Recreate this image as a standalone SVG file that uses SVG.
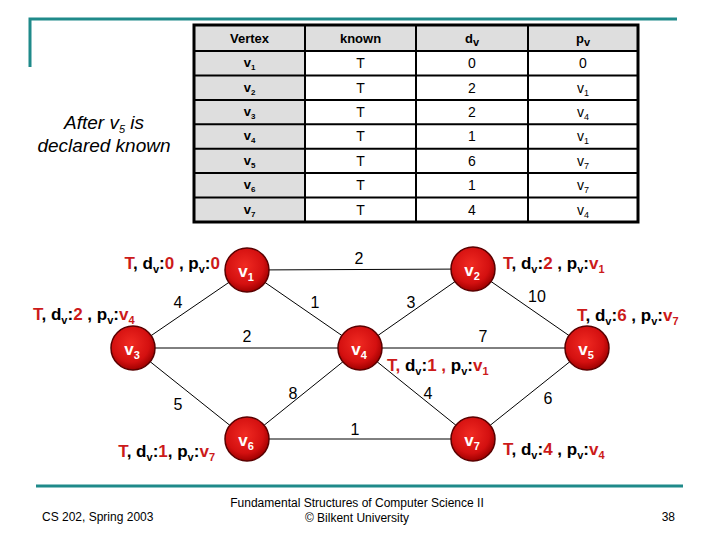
<svg xmlns="http://www.w3.org/2000/svg" width="720" height="540" viewBox="0 0 720 540">
<defs>
<radialGradient id="rg" cx="45%" cy="40%" r="60%">
<stop offset="0" stop-color="#f02a22"/>
<stop offset="0.7" stop-color="#d41010"/>
<stop offset="1" stop-color="#a00000"/>
</radialGradient>
<style>
text{font-family:"Liberation Sans",Arial,sans-serif;}
.node circle{fill:url(#rg);stroke:#5a0000;stroke-width:1.5;}
.node text{fill:#fff;font-weight:bold;font-size:17px;text-anchor:middle;}
.sub{font-size:11px;}
.edges line{stroke:#000;stroke-width:1;}
.el{font-size:16px;text-anchor:middle;fill:#000;}
.st{font-size:17px;font-weight:bold;fill:#000;}
.r{fill:#cc1a1a;}
.th{font-size:13px;font-weight:bold;text-anchor:middle;}
.tc{font-size:14px;text-anchor:middle;}
.tv{font-size:13px;font-weight:bold;text-anchor:middle;}
.ft{font-size:12px;fill:#000;}
</style>
</defs>
<rect width="720" height="540" fill="#fff"/>
<g id="frame" stroke="#1f8a8a" stroke-width="3" fill="none">
<polyline points="30,67 30,19 677,19"/>
<line x1="36" y1="486" x2="683" y2="486"/>
</g>
<g id="title">
<text x="104" y="129" font-size="19" font-style="italic" text-anchor="middle">After v<tspan class="sub" font-size="12" dy="4">5</tspan><tspan dy="-4"> is</tspan></text>
<text x="104" y="152" font-size="19" font-style="italic" text-anchor="middle">declared known</text>
</g>
<g id="table">
<rect x="194" y="25" width="444" height="26" fill="#dedede"/>
<rect x="194" y="51" width="111" height="171" fill="#dedede"/>
<g stroke="#000" stroke-width="2">
<line x1="305" y1="25" x2="305" y2="222"/>
<line x1="416" y1="25" x2="416" y2="222"/>
<line x1="528" y1="25" x2="528" y2="222"/>
<line x1="194" y1="51" x2="638" y2="51"/>
<line x1="194" y1="75.4" x2="638" y2="75.4"/>
<line x1="194" y1="99.9" x2="638" y2="99.9"/>
<line x1="194" y1="124.3" x2="638" y2="124.3"/>
<line x1="194" y1="148.7" x2="638" y2="148.7"/>
<line x1="194" y1="173.1" x2="638" y2="173.1"/>
<line x1="194" y1="197.6" x2="638" y2="197.6"/>
</g>
<rect x="194" y="25" width="444" height="197" fill="none" stroke="#000" stroke-width="3"/>
<text class="th" x="249.5" y="43">Vertex</text>
<text class="th" x="360.5" y="43">known</text>
<text class="th" x="472" y="43">d<tspan class="sub" font-size="8" dy="3">v</tspan></text>
<text class="th" x="583" y="43">p<tspan class="sub" font-size="8" dy="3">v</tspan></text>
<g>
<text class="tv" x="249.5" y="67">v<tspan font-size="8" dy="3">1</tspan></text>
<text class="tv" x="249.5" y="92">v<tspan font-size="8" dy="3">2</tspan></text>
<text class="tv" x="249.5" y="116">v<tspan font-size="8" dy="3">3</tspan></text>
<text class="tv" x="249.5" y="140">v<tspan font-size="8" dy="3">4</tspan></text>
<text class="tv" x="249.5" y="165">v<tspan font-size="8" dy="3">5</tspan></text>
<text class="tv" x="249.5" y="189">v<tspan font-size="8" dy="3">6</tspan></text>
<text class="tv" x="249.5" y="214">v<tspan font-size="8" dy="3">7</tspan></text>
</g>
<g>
<text class="tc" x="360.5" y="68">T</text>
<text class="tc" x="360.5" y="93">T</text>
<text class="tc" x="360.5" y="117">T</text>
<text class="tc" x="360.5" y="141">T</text>
<text class="tc" x="360.5" y="166">T</text>
<text class="tc" x="360.5" y="190">T</text>
<text class="tc" x="360.5" y="215">T</text>
</g>
<g>
<text class="tc" x="472" y="68">0</text>
<text class="tc" x="472" y="93">2</text>
<text class="tc" x="472" y="117">2</text>
<text class="tc" x="472" y="141">1</text>
<text class="tc" x="472" y="166">6</text>
<text class="tc" x="472" y="190">1</text>
<text class="tc" x="472" y="215">4</text>
</g>
<g>
<text class="tc" x="583" y="68">0</text>
<text class="tc" x="583" y="93">v<tspan font-size="9" dy="3">1</tspan></text>
<text class="tc" x="583" y="117">v<tspan font-size="9" dy="3">4</tspan></text>
<text class="tc" x="583" y="141">v<tspan font-size="9" dy="3">1</tspan></text>
<text class="tc" x="583" y="166">v<tspan font-size="9" dy="3">7</tspan></text>
<text class="tc" x="583" y="190">v<tspan font-size="9" dy="3">7</tspan></text>
<text class="tc" x="583" y="215">v<tspan font-size="9" dy="3">4</tspan></text>
</g>
</g>
<g id="connectors" class="edges">
<line x1="247" y1="270" x2="473" y2="269"/>
<line x1="247" y1="270" x2="133" y2="348"/>
<line x1="247" y1="270" x2="360" y2="348"/>
<line x1="473" y1="269" x2="360" y2="348"/>
<line x1="473" y1="269" x2="587" y2="348"/>
<line x1="133" y1="348" x2="360" y2="348"/>
<line x1="360" y1="348" x2="587" y2="348"/>
<line x1="133" y1="348" x2="247" y2="439"/>
<line x1="360" y1="348" x2="247" y2="439"/>
<line x1="360" y1="348" x2="473" y2="439"/>
<line x1="587" y1="348" x2="473" y2="439"/>
<line x1="247" y1="439" x2="473" y2="439"/>
<text class="el" x="359" y="264">2</text>
<text class="el" x="178" y="308">4</text>
<text class="el" x="315" y="308">1</text>
<text class="el" x="411" y="308">3</text>
<text class="el" x="537" y="302">10</text>
<text class="el" x="247" y="342">2</text>
<text class="el" x="483" y="342">7</text>
<text class="el" x="293" y="399">8</text>
<text class="el" x="428" y="399">4</text>
<text class="el" x="178" y="410">5</text>
<text class="el" x="548" y="404">6</text>
<text class="el" x="355" y="435">1</text>
</g>
<g id="v1" class="node"><circle cx="247" cy="270" r="22"/><text x="246" y="277">v<tspan class="sub" dy="4">1</tspan></text></g>
<g id="v2" class="node"><circle cx="473" cy="269" r="22"/><text x="472" y="276">v<tspan class="sub" dy="4">2</tspan></text></g>
<g id="v3" class="node"><circle cx="133" cy="348" r="22"/><text x="132" y="355">v<tspan class="sub" dy="4">3</tspan></text></g>
<g id="v4" class="node"><circle cx="360" cy="348" r="22"/><text x="359" y="355">v<tspan class="sub" dy="4">4</tspan></text></g>
<g id="v5" class="node"><circle cx="587" cy="348" r="22"/><text x="586" y="355">v<tspan class="sub" dy="4">5</tspan></text></g>
<g id="v6" class="node"><circle cx="247" cy="439" r="22"/><text x="246" y="446">v<tspan class="sub" dy="4">6</tspan></text></g>
<g id="v7" class="node"><circle cx="473" cy="439" r="22"/><text x="472" y="446">v<tspan class="sub" dy="4">7</tspan></text></g>
<g id="labels">
<text class="st" x="220" y="269" text-anchor="end"><tspan class="r">T</tspan>, d<tspan class="sub" dy="4">v</tspan><tspan dy="-4">:</tspan><tspan class="r">0</tspan> , p<tspan class="sub" dy="4">v</tspan><tspan dy="-4">:</tspan><tspan class="r">0</tspan></text>
<text class="st" x="33" y="320"><tspan class="r">T</tspan>, d<tspan class="sub" dy="4">v</tspan><tspan dy="-4">:</tspan><tspan class="r">2</tspan> , p<tspan class="sub" dy="4">v</tspan><tspan dy="-4">:</tspan><tspan class="r">v<tspan class="sub" dy="4">4</tspan></tspan></text>
<text class="st" x="215" y="457" text-anchor="end"><tspan class="r">T</tspan>, d<tspan class="sub" dy="4">v</tspan><tspan dy="-4">:</tspan><tspan class="r">1</tspan>, p<tspan class="sub" dy="4">v</tspan><tspan dy="-4">:</tspan><tspan class="r">v<tspan class="sub" dy="4">7</tspan></tspan></text>
<text class="st" x="503" y="269"><tspan class="r">T</tspan>, d<tspan class="sub" dy="4">v</tspan><tspan dy="-4">:</tspan><tspan class="r">2</tspan> , p<tspan class="sub" dy="4">v</tspan><tspan dy="-4">:</tspan><tspan class="r">v<tspan class="sub" dy="4">1</tspan></tspan></text>
<text class="st" x="577" y="321"><tspan class="r">T</tspan>, d<tspan class="sub" dy="4">v</tspan><tspan dy="-4">:</tspan><tspan class="r">6</tspan> , p<tspan class="sub" dy="4">v</tspan><tspan dy="-4">:</tspan><tspan class="r">v<tspan class="sub" dy="4">7</tspan></tspan></text>
<text class="st" x="387" y="371"><tspan class="r">T,</tspan> d<tspan class="sub" dy="4">v</tspan><tspan dy="-4">:</tspan><tspan class="r">1 ,</tspan> p<tspan class="sub" dy="4">v</tspan><tspan dy="-4">:</tspan><tspan class="r">v<tspan class="sub" dy="4">1</tspan></tspan></text>
<text class="st" x="503" y="455"><tspan class="r">T</tspan>, d<tspan class="sub" dy="4">v</tspan><tspan dy="-4">:</tspan><tspan class="r">4</tspan> , p<tspan class="sub" dy="4">v</tspan><tspan dy="-4">:</tspan><tspan class="r">v<tspan class="sub" dy="4">4</tspan></tspan></text>
</g>
<g id="footer">
<text class="ft" x="42" y="521">CS 202, Spring 2003</text>
<text class="ft" x="357" y="507" text-anchor="middle">Fundamental Structures of Computer Science II</text>
<text class="ft" x="357" y="522" text-anchor="middle">© Bilkent University</text>
<text class="ft" x="675" y="521" text-anchor="end">38</text>
</g>
</svg>
